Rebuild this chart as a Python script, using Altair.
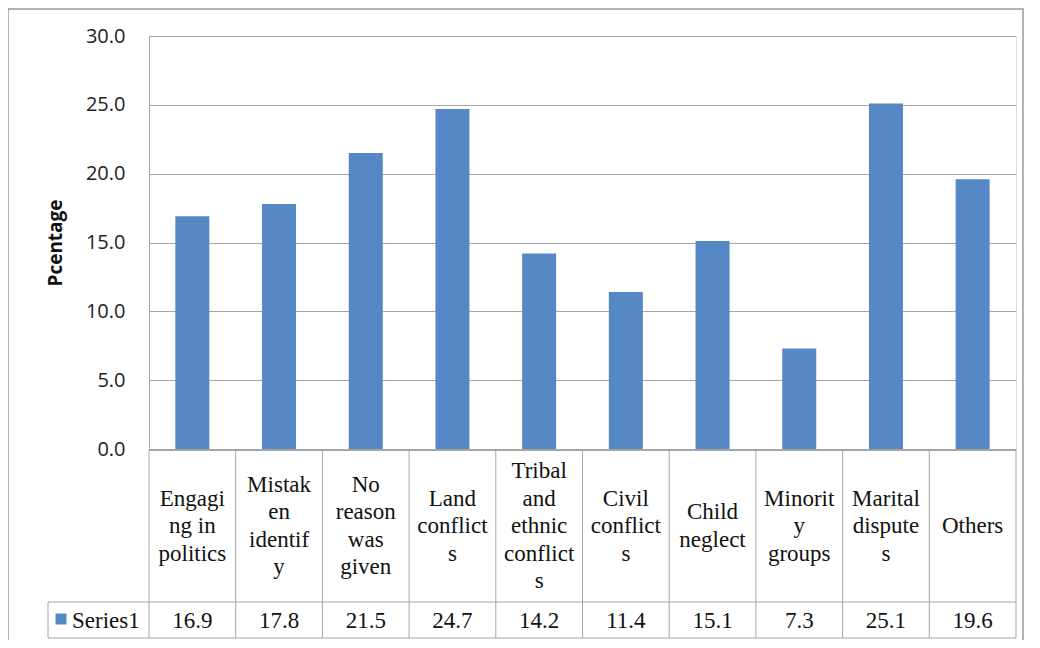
import altair as alt
import pandas as pd

categories = ["Engaging in politics", "Mistaken identify", "No reason was given",
              "Land conflicts", "Tribal and ethnic conflicts", "Civil conflicts",
              "Child neglect", "Minority groups", "Marital disputes", "Others"]
wrapped = ["Engagi|ng in|politics", "Mistak|en|identif|y", "No|reason|was|given",
           "Land|conflict|s", "Tribal|and|ethnic|conflict|s", "Civil|conflict|s",
           "Child|neglect", "Minorit|y|groups", "Marital|dispute|s", "Others"]
values = [16.9, 17.8, 21.5, 24.7, 14.2, 11.4, 15.1, 7.3, 25.1, 19.6]
series_name = "Series1"
y_ticks = [0, 5, 10, 15, 20, 25, 30]

df = pd.DataFrame({"cat": categories, "wrap": wrapped, "val": values})
one = pd.DataFrame({"s": [series_name]})

W, H = 867, 413
BAR = "#5588c4"
LINE = "#a6a6a6"
SERIF = "Liberation Serif"
LH = 27.5
HEAD_MID = 490

band = alt.Scale(paddingInner=0, paddingOuter=0)

base = alt.Chart(df)

bars = base.mark_bar(size=34, color=BAR).encode(
    x=alt.X("cat:N", sort=categories, axis=None, scale=band),
    y=alt.Y("val:Q", scale=alt.Scale(domain=[0, 30]),
            axis=alt.Axis(values=y_ticks, format=".1f", title="Pcentage",
                          tickSize=0, labelPadding=24, titlePadding=20,
                          labelFont="Open Sans", labelFontSize=20, labelColor="#222",
                          titleFont="Open Sans", titleFontSize=19, titleFontWeight="bold",
                          titleColor="#111", domainColor=LINE, gridColor=LINE,
                          grid=True)),
)

vlines = base.mark_rule(color=LINE, strokeWidth=1).encode(
    x=alt.X("cat:N", sort=categories, axis=None, bandPosition=0, scale=band),
    y=alt.value(H + 1), y2=alt.value(602),
)

labels = base.mark_text(font=SERIF, fontSize=23, lineHeight=LH,
                        baseline="middle", align="center", color="#111").transform_calculate(
    lines="split(datum.wrap, '|')",
).transform_calculate(
    ypix=f"{HEAD_MID} - (length(datum.lines) - 1) * {LH} / 2"
).encode(x=alt.X("cat:N", sort=categories, axis=None, bandPosition=0.5, scale=band),
         y=alt.Y("ypix:Q", axis=None, scale=alt.Scale(domain=[0, H], range=[0, H], zero=False, nice=False)),
         text="lines:N")

vals = base.mark_text(font=SERIF, fontSize=23, baseline="middle", align="center",
                      color="#111").encode(
    x=alt.X("cat:N", sort=categories, axis=None, bandPosition=0.5, scale=band),
    y=alt.value(585), text=alt.Text("val:Q", format=".1f"))

deco = alt.Chart(one)
right_line = deco.mark_rule(color=LINE).encode(x=alt.value(W), y=alt.value(H + 1), y2=alt.value(602))
left_line = deco.mark_rule(color=LINE).encode(x=alt.value(-101), y=alt.value(566), y2=alt.value(602))
top_line = deco.mark_rule(color=LINE, strokeWidth=2).encode(x=alt.value(0), x2=alt.value(W), y=alt.value(H + 1))
mid_line = deco.mark_rule(color=LINE).encode(x=alt.value(-101), x2=alt.value(W), y=alt.value(566))
bot_line = deco.mark_rule(color=LINE).encode(x=alt.value(-101), x2=alt.value(W), y=alt.value(602))
legend_sq = deco.mark_square(size=121, color=BAR, opacity=1).encode(x=alt.value(-88), y=alt.value(583))
legend_tx = deco.mark_text(font=SERIF, fontSize=23, align="left", baseline="middle",
                           color="#111").encode(x=alt.value(-77), y=alt.value(585), text="s:N")
border = deco.mark_rect(fill=None, stroke="#999999", strokeWidth=1.5).encode(
    x=alt.value(-141), x2=alt.value(874), y=alt.value(-27), y2=alt.value(700))

chart = alt.layer(
    border, bars, vlines, right_line, left_line, top_line, mid_line, bot_line,
    labels, vals, legend_sq, legend_tx
).resolve_scale(y="independent").properties(
    width=W, height=H,
    autosize=alt.AutoSizeParams(type="none"),
    padding={"left": 141, "top": 28, "right": 8, "bottom": 191},
).configure_view(stroke=None).configure(background="white")

chart.save("out.html", embed_options={"renderer": "svg", "actions": False})
